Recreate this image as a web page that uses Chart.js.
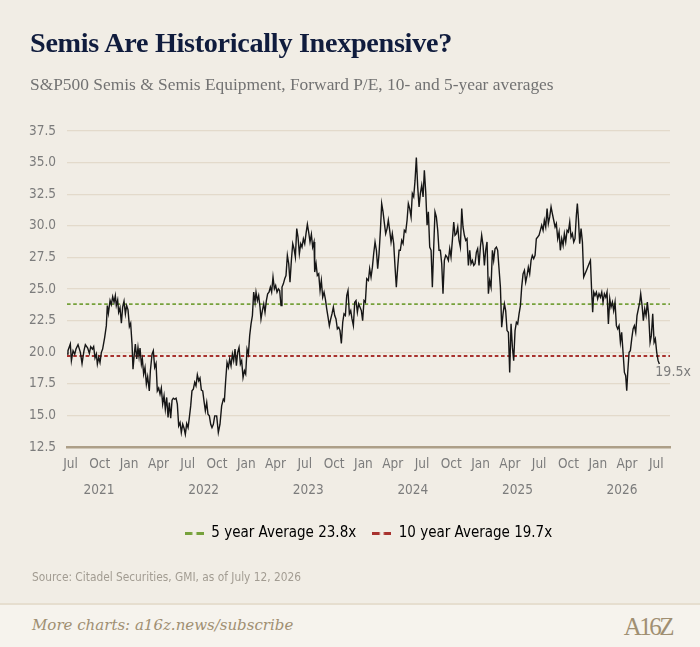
<!DOCTYPE html>
<html>
<head>
<meta charset="utf-8">
<script src="https://cdn.jsdelivr.net/npm/chart.js@4.4.1/dist/chart.umd.min.js"></script>
<style>
  html, body { margin: 0; padding: 0; width: 700px; height: 647px; overflow: hidden; background: #f1ede5; }
  #wrap { position: relative; width: 700px; height: 647px; }
  #chartBox { position: absolute; left: 0; top: 0; width: 700px; height: 647px; }
  .title { position: absolute; left: 30px; top: 27px; font-family: "Liberation Serif", serif; font-weight: bold; font-size: 28.2px; color: #101c3d; letter-spacing: -0.3px; white-space: nowrap; }
  .subtitle { position: absolute; left: 30px; top: 74px; font-family: "Liberation Serif", serif; font-size: 17.4px; color: #727272; white-space: nowrap; }
  .source { position: absolute; left: 32px; top: 570px; font-family: "Liberation Sans Narrow", "DejaVu Sans Condensed", Roboto, sans-serif; font-size: 11.8px; color: #a29c92; white-space: nowrap; }
  .footer { position: absolute; left: 0; top: 603px; width: 700px; height: 44px; background: #f6f3ed; border-top: 2px solid #e6decf; box-sizing: border-box; }
  .more { position: absolute; left: 32px; top: 11px; font-family: "DejaVu Serif", serif; font-style: italic; font-size: 15px; color: #a08f72; white-space: nowrap; }
  .logo { position: absolute; right: 28px; top: 8px; font-family: "Liberation Serif", serif; font-size: 25px; color: #a08f72; letter-spacing: -2.5px; }
</style>
</head>
<body>
<div id="wrap">
  <div id="chartBox"><canvas id="c"></canvas></div>
  <div class="title">Semis Are Historically Inexpensive?</div>
  <div class="subtitle">S&amp;P500 Semis &amp; Semis Equipment, Forward P/E, 10- and 5-year averages</div>
  <div class="source">Source: Citadel Securities, GMI, as of July 12, 2026</div>
  <div class="footer">
    <div class="more">More charts: a16z.news/subscribe</div>
    <div class="logo">A16Z</div>
  </div>
</div>
<script>
// Tick labels (quarterly from Jul 2021) and year labels
const monthLabels = ['Jul','Oct','Jan','Apr','Jul','Oct','Jan','Apr','Jul','Oct','Jan','Apr','Jul','Oct','Jan','Apr','Jul','Oct','Jan','Apr','Jul'];
const yearLabels = ['2021','2022','2023','2024','2025','2026'];

// Averages
const avg5 = 23.8;
const avg10 = 19.7;
const lastLabel = '19.5x';

// Forward P/E observations: [months since Jul 1 2021, forward P/E]
const forwardPE = [
[-0.36,19.85],[-0.26,20.12],[-0.02,20.65],[0.09,19.33],[0.26,20.12],[0.43,19.85],[0.56,20.25],[0.77,20.60],[1.01,19.99],[1.18,19.11],
[1.38,20.12],[1.52,20.60],[1.76,20.33],[1.93,19.91],[2.07,20.44],[2.24,20.25],[2.37,20.44],[2.51,19.54],[2.65,19.85],[2.75,19.06],
[2.89,19.59],[3.02,19.19],[3.16,19.99],[3.29,20.25],[3.50,21.18],[3.67,22.10],[3.77,23.69],[3.88,23.08],[4.05,24.09],[4.18,23.77],
[4.32,24.40],[4.46,23.96],[4.59,24.48],[4.69,23.69],[4.83,24.14],[4.93,23.16],[5.07,23.51],[5.21,22.29],[5.34,23.56],[5.48,24.03],
[5.62,23.03],[5.75,23.69],[5.89,23.35],[6.03,22.02],[6.16,22.29],[6.30,20.65],[6.40,18.66],[6.54,19.91],[6.64,20.65],[6.78,19.46],
[6.91,20.38],[7.02,19.64],[7.12,20.33],[7.26,19.06],[7.36,19.46],[7.49,18.27],[7.63,18.80],[7.77,17.47],[7.90,18.06],[8.07,16.94],
[8.18,18.53],[8.35,19.85],[8.48,20.12],[8.62,18.80],[8.76,19.11],[8.89,16.94],[9.03,17.16],[9.17,16.68],[9.30,17.16],[9.44,15.89],
[9.58,16.55],[9.71,15.49],[9.85,16.42],[9.99,14.83],[10.12,16.02],[10.26,14.78],[10.40,16.20],[10.53,16.36],[10.67,16.28],[10.81,16.36],
[10.94,15.89],[11.08,14.17],[11.22,14.43],[11.35,13.64],[11.49,14.30],[11.63,13.98],[11.76,13.51],[11.90,14.35],[12.04,14.03],[12.17,14.83],
[12.31,15.75],[12.44,16.94],[12.58,17.08],[12.72,17.61],[12.85,17.34],[12.99,18.21],[13.13,17.74],[13.26,17.95],[13.40,17.00],[13.54,16.94],
[13.67,16.15],[13.81,15.36],[13.95,16.02],[14.08,15.09],[14.22,14.96],[14.36,14.30],[14.49,14.03],[14.63,14.30],[14.77,14.96],
[14.97,14.96],[15.14,13.64],[15.31,14.30],[15.48,15.75],[15.65,16.28],[15.76,16.15],[15.89,17.74],[16.03,19.19],[16.17,18.80],[16.30,19.46],
[16.44,18.93],[16.58,19.85],[16.71,19.33],[16.85,20.25],[16.99,18.93],[17.12,19.99],[17.26,20.38],[17.40,19.06],[17.53,19.33],[17.67,18.00],
[17.81,18.53],[17.94,18.27],[18.08,20.25],[18.22,19.85],[18.35,21.31],[18.49,22.24],[18.63,22.90],[18.76,24.75],[18.90,23.96],[19.00,24.75],
[19.14,24.09],[19.27,24.48],[19.41,23.56],[19.51,22.63],[19.65,23.29],[19.79,23.82],[19.92,23.16],[20.06,24.09],[20.19,24.62],[20.33,24.75],
[20.47,25.15],[20.60,24.75],[20.74,25.94],[20.88,25.01],[21.01,25.28],[21.15,24.75],[21.29,25.01],[21.42,24.88],[21.56,23.69],[21.66,25.15],
[21.80,25.41],[21.94,25.81],[22.07,26.07],[22.21,27.66],[22.35,27.00],[22.48,25.54],[22.62,27.26],[22.76,28.58],[22.89,28.19],[23.03,27.53],
[23.17,29.78],[23.30,29.11],[23.44,27.79],[23.58,28.58],[23.71,28.32],[23.85,28.98],[23.99,28.58],[24.12,29.38],[24.26,30.12],[24.39,29.51],
[24.53,28.72],[24.67,29.33],[24.80,28.32],[24.94,28.72],[25.01,26.34],[25.15,27.00],[25.28,26.07],[25.42,26.20],[25.56,24.88],[25.69,25.67],
[25.83,24.35],[25.97,24.75],[26.10,24.22],[26.24,23.43],[26.38,22.76],[26.51,22.10],[26.65,22.63],[26.78,23.03],[26.92,23.56],[27.06,22.90],
[27.19,22.63],[27.33,21.84],[27.47,21.97],[27.60,21.71],[27.74,20.70],[27.88,22.37],[28.01,23.03],[28.15,22.90],[28.29,24.48],[28.42,24.88],
[28.56,23.03],[28.70,23.29],[28.83,22.63],[28.97,22.10],[29.11,23.96],[29.24,24.09],[29.38,23.16],[29.51,23.82],[29.65,23.56],[29.79,23.29],
[29.92,22.50],[30.06,24.09],[30.20,23.96],
[30.34,25.81],[30.51,25.67],[30.64,26.60],[30.78,25.94],[30.92,26.73],[31.05,27.79],[31.19,28.72],[31.33,28.06],[31.46,26.60],[31.60,27.79],
[31.74,29.64],[31.87,31.76],[32.01,31.10],[32.15,30.17],[32.28,29.38],[32.42,29.78],[32.55,30.44],[32.69,29.64],[32.83,28.72],[32.96,29.38],
[33.10,28.59],[33.24,26.73],[33.37,25.15],[33.51,26.73],[33.65,28.06],[33.78,28.06],[33.92,28.85],[34.06,28.59],[34.19,29.64],[34.33,29.51],
[34.47,30.44],[34.60,31.76],[34.74,31.36],[34.88,30.70],[35.01,32.55],[35.15,32.29],[35.29,33.61],[35.42,35.41],[35.56,33.08],[35.70,31.50],
[35.83,32.55],[35.97,33.21],[36.11,32.29],[36.24,34.40],[36.38,32.69],[36.52,30.04],[36.65,31.10],[36.79,28.32],[36.93,28.06],[37.06,25.15],
[37.20,28.32],[37.33,31.10],[37.47,30.70],[37.61,29.64],[37.74,28.06],[37.88,28.06],[38.02,27.00],[38.15,24.62],[38.29,27.26],[38.43,27.66],
[38.56,27.53],[38.70,27.26],[38.84,28.19],[38.97,27.53],[39.11,28.85],[39.25,30.30],[39.38,29.25],[39.52,29.38],[39.66,29.91],[39.79,28.85],
[39.93,28.32],[40.07,31.36],[40.20,29.91],[40.34,29.25],[40.48,28.85],[40.61,28.98],[40.75,26.87],[40.89,28.06],[41.02,27.00],[41.16,27.26],
[41.30,26.87],[41.43,27.00],[41.57,27.92],[41.70,28.19],[41.84,26.87],[41.98,28.32],[42.11,29.25],[42.25,28.45],[42.39,26.87],[42.52,28.06],
[42.66,28.72],[42.80,24.62],[42.93,25.67],[43.07,25.15],[43.21,28.06],[43.34,27.26],[43.48,28.19],[43.62,28.32],[43.75,28.06],[43.89,26.60],
[44.03,25.15],[44.16,21.97],[44.30,23.03],[44.44,23.82],[44.57,23.29],[44.71,21.71],[44.85,21.57],[44.98,18.40],[45.12,22.24],[45.26,20.38],
[45.39,19.33],[45.53,21.71],[45.67,22.37],
[45.80,22.24],[45.94,23.03],[46.08,23.69],[46.21,25.15],[46.35,26.20],[46.49,26.47],[46.62,25.54],[46.76,26.07],[46.89,26.73],[47.03,26.20],
[47.17,27.26],[47.30,27.66],[47.44,27.40],[47.58,27.66],[47.71,28.98],[47.85,29.11],[47.99,29.25],[48.12,29.64],[48.26,30.04],[48.40,29.64],
[48.53,30.44],[48.67,29.91],[48.81,31.36],[48.94,30.17],[49.08,30.70],[49.22,31.50],[49.35,30.97],[49.49,30.44],[49.63,29.91],[49.76,30.17],
[49.90,28.98],[50.04,29.51],[50.17,28.06],[50.31,28.98],[50.45,28.45],[50.58,29.38],[50.72,28.72],[50.86,29.64],[50.99,29.51],[51.13,30.30],
[51.26,29.11],[51.40,29.38],[51.54,28.72],[51.67,28.98],[51.81,30.83],[51.91,31.76],[52.02,30.57],[52.15,28.59],[52.29,29.78],[52.43,28.72],
[52.56,25.94],[52.70,26.20],[52.84,26.47],[52.97,26.73],[53.11,27.00],[53.25,27.26],[53.38,24.75],[53.48,23.16],[53.59,24.75],[53.72,24.48],
[53.86,24.75],[53.99,24.22],[54.13,24.62],[54.27,24.35],[54.41,24.75],[54.54,23.96],[54.68,24.62],[54.82,24.35],[54.95,24.75],[55.09,22.24],
[55.23,24.22],[55.36,23.56],[55.50,23.96],[55.63,23.29],[55.77,23.96],[55.91,22.10],[56.04,21.84],[56.18,22.10],[56.32,20.78],[56.45,21.57],
[56.59,19.99],[56.73,18.40],[56.86,18.14],[56.97,16.95],[57.07,18.40],[57.21,19.99],[57.34,20.12],[57.48,21.05],[57.62,21.84],[57.75,22.10],
[57.89,21.57],[58.02,22.90],[58.16,23.43],[58.30,23.96],[58.40,24.62],[58.54,23.69],[58.67,22.50],[58.81,23.43],[58.95,22.90],[59.08,23.96],
[59.22,22.90],[59.36,20.78],[59.49,21.31],[59.63,23.03],[59.77,20.78],[59.90,21.05],[60.04,19.99],[60.18,19.33],[60.31,19.06]
];

// Axis extent (months since Jul 2021)
const xMin = -0.36, xMax = 61.4;
const yMin = 12.5, yMax = 37.5, yStep = 2.5;
// year label anchor (months) and spacing
const yearStart = 2.92, yearSpacing = 10.714;

const SANS = '"Liberation Sans Narrow", "DejaVu Sans Condensed", "Roboto Condensed", Roboto, sans-serif';
Chart.defaults.font.family = SANS;

const GREEN = '#76a13b';
const RED = '#a8322e';
const TICK = '#7c7c7c';

function dashIcon(color) {
  const c = document.createElement('canvas');
  c.width = 19; c.height = 3;
  const g = c.getContext('2d');
  g.fillStyle = color;
  g.fillRect(0, 0, 7.5, 3);
  g.fillRect(11.5, 0, 7.5, 3);
  return c;
}

const endLabelPlugin = {
  id: 'endLabel',
  afterDatasetsDraw(chart) {
    const meta = chart.getDatasetMeta(0);
    const pt = meta.data[meta.data.length - 1];
    const ctx = chart.ctx;
    ctx.save();
    ctx.font = '14px ' + SANS;
    ctx.fillStyle = TICK;
    ctx.textAlign = 'left';
    ctx.textBaseline = 'middle';
    ctx.fillText(lastLabel, pt.x - 4, pt.y + 8);
    ctx.restore();
  }
};

new Chart(document.getElementById('c'), {
  type: 'line',
  data: {
    datasets: [
      {
        label: 'Forward P/E',
        data: forwardPE.map(d => ({x: d[0], y: d[1]})),
        borderColor: '#161616',
        borderWidth: 1.4,
        pointRadius: 0,
        tension: 0,
        order: 1
      },
      {
        label: '5 year Average ' + avg5 + 'x',
        data: [{x: xMin, y: avg5}, {x: xMax, y: avg5}],
        borderColor: GREEN,
        borderWidth: 1.8,
        borderDash: [3.6, 2.6],
        pointRadius: 0,
        order: 2
      },
      {
        label: '10 year Average ' + avg10 + 'x',
        data: [{x: xMin, y: avg10}, {x: xMax, y: avg10}],
        borderColor: RED,
        borderWidth: 1.8,
        borderDash: [3.6, 2.6],
        pointRadius: 0,
        order: 3
      }
    ]
  },
  options: {
    responsive: true,
    maintainAspectRatio: false,
    animation: false,
    layout: { padding: { top: 131, left: 0, right: 30, bottom: 96 } },
    plugins: {
      tooltip: { enabled: false },
      legend: {
        position: 'bottom',
        fullSize: false,
        labels: {
          usePointStyle: true,
          pointStyleWidth: 19,
          padding: 16,
          color: '#454545',
          font: { size: 15, family: SANS },
          generateLabels(chart) {
            return [1, 2].map(i => {
              const ds = chart.data.datasets[i];
              return {
                text: ds.label,
                pointStyle: dashIcon(ds.borderColor),
                fillStyle: ds.borderColor,
                strokeStyle: ds.borderColor,
                lineWidth: 0,
                hidden: false,
                datasetIndex: i
              };
            });
          }
        }
      }
    },
    scales: {
      x: {
        type: 'linear',
        position: 'bottom',
        min: xMin,
        max: xMax,
        grid: { display: false, drawTicks: false },
        border: { display: true, color: '#ad9f88', width: 2.5 },
        afterBuildTicks(scale) {
          scale.ticks = monthLabels.map((_, i) => ({ value: i * 3 }));
        },
        afterFit(scale) { scale.height = 28; },
        ticks: {
          autoSkip: false,
          maxRotation: 0,
          padding: 9,
          color: TICK,
          font: { size: 13.5 },
          callback: (v, i) => monthLabels[i]
        }
      },
      x2: {
        type: 'linear',
        position: 'bottom',
        min: xMin,
        max: xMax,
        grid: { display: false, drawTicks: false },
        border: { display: false },
        afterBuildTicks(scale) {
          scale.ticks = yearLabels.map((_, i) => ({ value: yearStart + i * yearSpacing }));
        },
        afterFit(scale) { scale.height = 35; },
        ticks: {
          autoSkip: false,
          maxRotation: 0,
          padding: 7,
          color: TICK,
          font: { size: 13.5 },
          callback: (v, i) => yearLabels[i]
        }
      },
      y: {
        type: 'linear',
        min: yMin,
        max: yMax,
        grid: { color: '#e3dacb', lineWidth: 1.3, drawTicks: false },
        border: { display: false },
        afterFit(scale) { scale.width = 67; },
        ticks: {
          stepSize: yStep,
          padding: 11,
          color: TICK,
          font: { size: 13.5 },
          callback: v => v.toFixed(1)
        }
      }
    }
  },
  plugins: [endLabelPlugin]
});
</script>
</body>
</html>
